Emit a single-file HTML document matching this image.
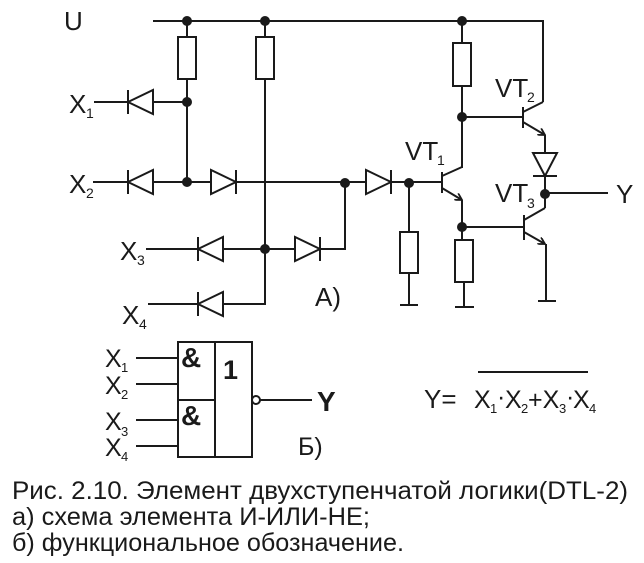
<!DOCTYPE html>
<html><head><meta charset="utf-8"><style>
html,body{margin:0;padding:0;background:#fff}
svg{display:block}
text{font-family:"Liberation Sans",sans-serif;fill:#1a1a1a}
</style></head><body>
<svg width="644" height="563" viewBox="0 0 644 563" xmlns="http://www.w3.org/2000/svg">
<defs>
<marker id="ar" markerWidth="8" markerHeight="8" refX="7" refY="4" orient="auto" markerUnits="userSpaceOnUse">
<path d="M0,0 L7,4 L0,8" fill="none" stroke="#1a1a1a" stroke-width="1.8"/>
</marker>
</defs>
<g stroke="#1a1a1a" stroke-width="2" fill="none">
<polyline points="153,21 543,21 543,102"/>
<line x1="187" y1="21" x2="187" y2="37"/><rect x="178" y="37" width="18" height="42" fill="#fff"/>
<line x1="265" y1="21" x2="265" y2="37"/><rect x="256" y="37" width="18" height="42" fill="#fff"/>
<line x1="187" y1="79" x2="187" y2="182"/>
<line x1="265" y1="79" x2="265" y2="304"/>
<line x1="94" y1="102" x2="187" y2="102"/>
<line x1="93" y1="182" x2="442" y2="182"/>
<polyline points="146,249 345,249 345,182"/>
<polyline points="148,304 265,304 265,249"/>
<line x1="409" y1="182" x2="409" y2="232"/><rect x="400" y="232" width="18" height="41" fill="#fff"/>
<line x1="409" y1="273" x2="409" y2="305"/><line x1="400" y1="305" x2="418" y2="305"/>
<line x1="462" y1="21" x2="462" y2="43"/><rect x="453" y="43" width="18" height="43" fill="#fff"/>
<line x1="462" y1="86" x2="462" y2="168"/>
<line x1="442" y1="172" x2="442" y2="193"/>
<line x1="442" y1="176" x2="462" y2="167"/>
<line x1="442" y1="188" x2="462" y2="200" marker-end="url(#ar)"/>
<line x1="462" y1="200" x2="462" y2="240"/>
<rect x="455" y="240" width="18" height="42" fill="#fff"/>
<line x1="464" y1="282" x2="464" y2="307"/><line x1="455" y1="307" x2="474" y2="307"/>
<line x1="462" y1="117" x2="523" y2="117"/>
<line x1="523" y1="107" x2="523" y2="128"/>
<line x1="523" y1="112" x2="543" y2="102"/>
<line x1="523" y1="122" x2="545" y2="135" marker-end="url(#ar)"/>
<line x1="545" y1="135" x2="545" y2="208"/>
<line x1="462" y1="227" x2="524" y2="227"/>
<line x1="524" y1="215" x2="524" y2="240"/>
<line x1="545" y1="208" x2="524" y2="220"/>
<line x1="524" y1="232" x2="545" y2="244" marker-end="url(#ar)"/>
<line x1="546" y1="244" x2="546" y2="301"/><line x1="538" y1="301" x2="556" y2="301"/>
<line x1="545" y1="193" x2="608" y2="193"/>
</g>
<g stroke="#1a1a1a" stroke-width="2" fill="#fff">
<polygon points="128,102 153,90 153,114"/><line x1="128" y1="90" x2="128" y2="114"/>
<polygon points="128,182 153,170 153,194"/><line x1="128" y1="170" x2="128" y2="194"/>
<polygon points="198,249 223,237 223,261"/><line x1="198" y1="237" x2="198" y2="261"/>
<polygon points="198,304 223,292 223,316"/><line x1="198" y1="292" x2="198" y2="316"/>
<polygon points="236,182 211,170 211,194"/><line x1="236" y1="170" x2="236" y2="194"/>
<polygon points="320,249 295,237 295,261"/><line x1="320" y1="237" x2="320" y2="261"/>
<polygon points="391,182 366,170 366,194"/><line x1="391" y1="170" x2="391" y2="194"/>
<polygon points="545,176 533,153 557,153"/><line x1="533" y1="176" x2="557" y2="176"/>
</g>
<g fill="#1a1a1a">
<circle cx="187" cy="21" r="5"/><circle cx="265" cy="21" r="5"/><circle cx="462" cy="21" r="5"/>
<circle cx="187" cy="102" r="5"/><circle cx="187" cy="182" r="5"/><circle cx="345" cy="183" r="5"/>
<circle cx="409" cy="183" r="5"/><circle cx="265" cy="249" r="5"/><circle cx="462" cy="117" r="5"/>
<circle cx="462" cy="227" r="5"/><circle cx="545" cy="194" r="5"/>
</g>
<g font-size="26">
<text x="64" y="30">U</text>
<text x="69" y="113">X</text><text x="86" y="118" font-size="14">1</text>
<text x="69" y="193">X</text><text x="86" y="198" font-size="14">2</text>
<text x="120" y="260">X</text><text x="137" y="265" font-size="14">3</text>
<text x="122" y="324">X</text><text x="139" y="329" font-size="14">4</text>
<text x="315" y="306">A)</text>
<text x="405" y="160">VT</text><text x="437" y="165" font-size="14">1</text>
<text x="495" y="97">VT</text><text x="527" y="102" font-size="14">2</text>
<text x="495" y="202">VT</text><text x="527" y="208" font-size="14">3</text>
<text x="616" y="203">Y</text>
</g>
<g stroke="#1a1a1a" stroke-width="2" fill="none">
<rect x="178" y="342" width="74" height="115"/>
<line x1="215" y1="342" x2="215" y2="457"/>
<line x1="178" y1="400" x2="215" y2="400"/>
<line x1="136" y1="358" x2="178" y2="358"/>
<line x1="136" y1="384" x2="178" y2="384"/>
<line x1="136" y1="420" x2="178" y2="420"/>
<line x1="136" y1="446" x2="178" y2="446"/>
<circle cx="256" cy="400" r="4" fill="#fff"/>
<line x1="260" y1="400" x2="312" y2="400"/>
<line x1="478" y1="372" x2="588" y2="372"/>
</g>
<g font-size="25">
<text x="105" y="367">X</text><text x="121" y="372" font-size="13">1</text>
<text x="105" y="394">X</text><text x="121" y="399" font-size="13">2</text>
<text x="105" y="430">X</text><text x="121" y="436" font-size="13">3</text>
<text x="105" y="456">X</text><text x="121" y="461" font-size="13">4</text>
<text x="181" y="367" font-size="28" font-weight="bold" font-family="Liberation Serif">&amp;</text>
<text x="181" y="425" font-size="28" font-weight="bold" font-family="Liberation Serif">&amp;</text>
<text x="223" y="379" font-weight="bold" font-size="27">1</text>
<text x="317" y="411" font-weight="bold" font-size="28">Y</text>
<text x="298" y="455">Б)</text>
<text x="424" y="408" font-size="26">Y=</text>
<text x="474" y="408">X</text><text x="490" y="413" font-size="13">1</text>
<text x="497" y="405">·</text>
<text x="505" y="408">X</text><text x="521" y="413" font-size="13">2</text>
<text x="528" y="408">+X</text><text x="559" y="413" font-size="13">3</text>
<text x="566" y="405">·</text>
<text x="573" y="408">X</text><text x="589" y="413" font-size="13">4</text>
</g>
<g font-size="25">
<text x="12" y="499" textLength="616" lengthAdjust="spacingAndGlyphs">Рис. 2.10. Элемент двухступенчатой логики(DTL-2)</text>
<text x="12" y="525" textLength="358" lengthAdjust="spacingAndGlyphs">а) схема элемента И-ИЛИ-НЕ;</text>
<text x="12" y="551" textLength="392" lengthAdjust="spacingAndGlyphs">б) функциональное обозначение.</text>
</g>
</svg>
</body></html>
